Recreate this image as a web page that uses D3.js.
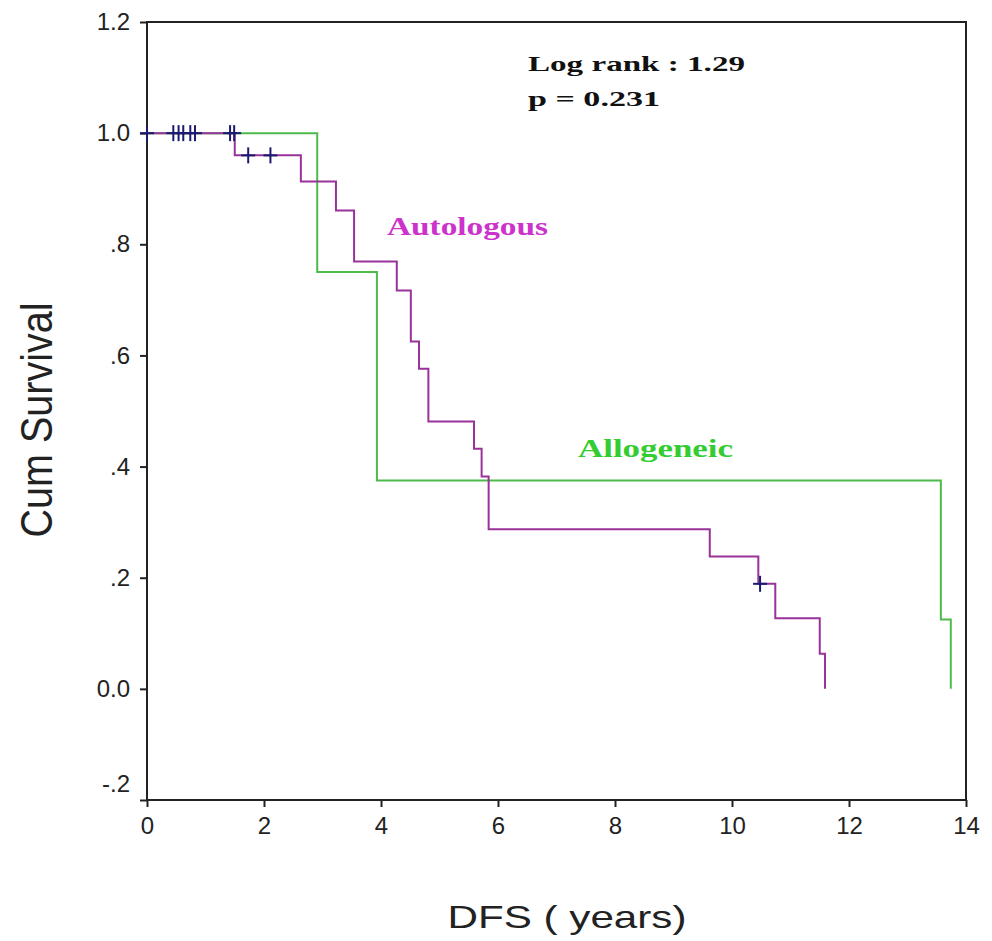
<!DOCTYPE html>
<html>
<head>
<meta charset="utf-8">
<script src="https://cdn.jsdelivr.net/npm/d3@7"></script>
<style>
  body { margin: 0; background: #fff; }
  .tick text { font-family: "Liberation Sans", Arial, sans-serif; font-size: 24px; fill: #222; }
  .tick line { stroke: #222; stroke-width: 2px; }
</style>
</head>
<body>
<div id="chart"></div>
<script>
// axis ticks
var xTicks = [0, 2, 4, 6, 8, 10, 12, 14];
var yTicks = [-0.2, 0, 0.2, 0.4, 0.6, 0.8, 1.0, 1.2];
var yTickLabels = ["-.2", "0.0", ".2", ".4", ".6", ".8", "1.0", "1.2"];

// Kaplan-Meier steps (time in years, cum survival)
var autoTimes = [0, 1.50, 2.63, 3.23, 3.54, 4.27, 4.51, 4.65, 4.81, 5.59, 5.72, 5.84, 9.62, 10.45, 10.74, 11.50, 11.59];
var autoSurv  = [1, 0.96, 0.913, 0.861, 0.769, 0.717, 0.625, 0.576, 0.481, 0.432, 0.382, 0.287, 0.238, 0.189, 0.127, 0.063, 0];
var alloTimes = [0, 2.91, 3.93, 13.57, 13.74];
var alloSurv  = [1, 0.75, 0.375, 0.125, 0];

// censored cases
var censorTimes = [0, 0.45, 0.54, 0.62, 0.74, 0.82, 1.42, 1.49, 1.73, 2.11, 10.48];
var censorSurv  = [1, 1, 1, 1, 1, 1, 1, 1, 0.96, 0.96, 0.189];

var margin = {top: 22, right: 26, bottom: 141, left: 147},
    width = 992 - margin.left - margin.right,
    height = 941 - margin.top - margin.bottom;

var svg = d3.select("#chart")
  .append("svg")
    .attr("width", 992)
    .attr("height", 941)
  .append("g")
    .attr("transform", "translate(" + margin.left + "," + margin.top + ")");

var x = d3.scaleLinear().domain([0, 14]).range([0, width]);
var y = d3.scaleLinear().domain([-0.2, 1.2]).range([height, 0]);

// X axis
var xAxis = svg.append("g")
  .attr("transform", "translate(0," + height + ")")
  .call(d3.axisBottom(x).tickValues(xTicks).tickFormat(d3.format("d")).tickSize(7).tickPadding(10));
xAxis.select(".domain").remove();

// Y axis
var yAxis = svg.append("g")
  .call(d3.axisLeft(y).tickValues(yTicks)
    .tickFormat(function (d, i) { return yTickLabels[i]; })
    .tickSize(7).tickPadding(10));
yAxis.select(".domain").remove();
yAxis.selectAll(".tick text")
  .filter(function (d) { return d === -0.2; })
  .attr("dy", "-0.35em");

// frame
svg.append("rect")
  .attr("x", 0).attr("y", 0)
  .attr("width", width).attr("height", height)
  .attr("fill", "none")
  .attr("stroke", "#222")
  .attr("stroke-width", 2);

var step = d3.line()
  .x(function (d) { return x(d[0]); })
  .y(function (d) { return y(d[1]); })
  .curve(d3.curveStepAfter);

svg.append("path")
  .datum(d3.zip(alloTimes, alloSurv))
  .attr("d", step)
  .attr("fill", "none")
  .attr("stroke", "#4cbb4c")
  .attr("stroke-width", 2);

svg.append("path")
  .datum(d3.zip(autoTimes, autoSurv))
  .attr("d", step)
  .attr("fill", "none")
  .attr("stroke", "#993399")
  .attr("stroke-width", 2);

// censor marks
var cens = svg.append("g")
  .selectAll("g")
  .data(d3.zip(censorTimes, censorSurv))
  .enter()
  .append("g")
    .attr("transform", function (d) { return "translate(" + x(d[0]) + "," + y(d[1]) + ")"; });
cens.append("line")
  .attr("x1", -7).attr("x2", 7).attr("y1", 0).attr("y2", 0)
  .attr("stroke", "#1a1a70").attr("stroke-width", 2);
cens.append("line")
  .attr("x1", 0).attr("x2", 0).attr("y1", -8).attr("y2", 8)
  .attr("stroke", "#1a1a70").attr("stroke-width", 2);

// group labels
svg.append("text")
  .attr("x", 387 - margin.left).attr("y", 235 - margin.top)
  .attr("textLength", 161).attr("lengthAdjust", "spacingAndGlyphs")
  .style("font-family", "'Liberation Serif', 'Times New Roman', serif")
  .style("font-weight", "bold").style("font-size", "25px")
  .style("fill", "#cc33cc")
  .text("Autologous");

svg.append("text")
  .attr("x", 578 - margin.left).attr("y", 457 - margin.top)
  .attr("textLength", 155).attr("lengthAdjust", "spacingAndGlyphs")
  .style("font-family", "'Liberation Serif', 'Times New Roman', serif")
  .style("font-weight", "bold").style("font-size", "25px")
  .style("fill", "#33cc33")
  .text("Allogeneic");

// log rank annotation
svg.append("text")
  .attr("x", 528 - margin.left).attr("y", 71 - margin.top)
  .attr("textLength", 217).attr("lengthAdjust", "spacingAndGlyphs")
  .style("font-family", "'Liberation Serif', 'Times New Roman', serif")
  .style("font-weight", "bold").style("font-size", "22px")
  .style("fill", "#111")
  .text("Log rank : 1.29");

svg.append("text")
  .attr("x", 528 - margin.left).attr("y", 106 - margin.top)
  .attr("textLength", 132).attr("lengthAdjust", "spacingAndGlyphs")
  .style("font-family", "'Liberation Serif', 'Times New Roman', serif")
  .style("font-weight", "bold").style("font-size", "22px")
  .style("fill", "#111")
  .text("p = 0.231");

// axis titles
svg.append("text")
  .attr("x", 567 - margin.left).attr("y", 928 - margin.top)
  .attr("text-anchor", "middle")
  .attr("textLength", 239).attr("lengthAdjust", "spacingAndGlyphs")
  .style("font-family", "'Liberation Sans', Arial, sans-serif")
  .style("font-size", "32px").style("fill", "#222")
  .text("DFS ( years)");

svg.append("text")
  .attr("transform", "translate(" + (52 - margin.left) + "," + (420 - margin.top) + ") scale(1.38,1) rotate(-90)")
  .attr("text-anchor", "middle")
  .attr("textLength", 235).attr("lengthAdjust", "spacingAndGlyphs")
  .style("font-family", "'Liberation Sans', Arial, sans-serif")
  .style("font-size", "32px").style("fill", "#222")
  .text("Cum Survival");
</script>
</body>
</html>
